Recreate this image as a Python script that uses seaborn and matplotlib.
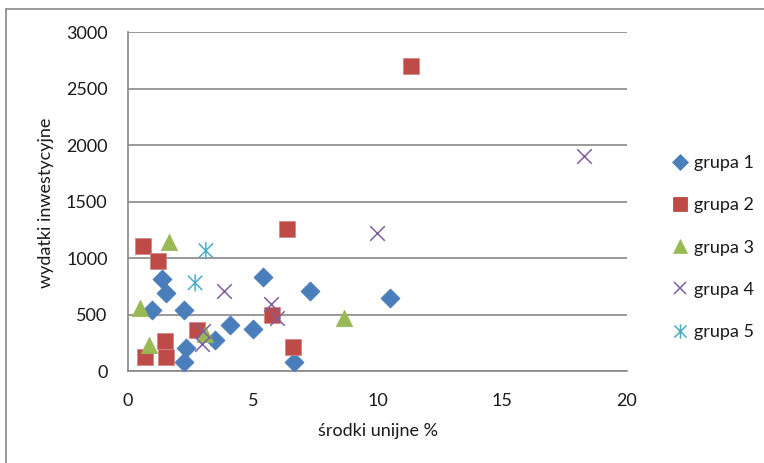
import numpy as np
import pandas as pd
import matplotlib
matplotlib.use("Agg")
import matplotlib.pyplot as plt
from matplotlib.path import Path
from matplotlib.lines import Line2D
import seaborn as sns

# --- data: EU funds share (%) vs investment spending, by group ---
g1_x = [1.36, 1.54, 0.95, 2.25, 2.32, 2.25, 3.5, 4.1, 5.0, 5.43, 7.28, 6.67, 10.5]
g1_y = [810, 690, 540, 540, 200, 80, 270, 410, 370, 830, 710, 80, 650]

g2_x = [0.62, 1.22, 6.38, 2.75, 1.49, 1.54, 0.68, 5.78, 6.6, 11.33]
g2_y = [1110, 975, 1260, 360, 265, 125, 120, 500, 210, 2700]

g3_x = [1.65, 0.47, 0.83, 3.1, 8.65]
g3_y = [1140, 555, 230, 330, 470]

g4_x = [3.86, 5.74, 5.97, 2.99, 2.96, 9.96, 18.27]
g4_y = [706, 594, 465, 353, 236, 1220, 1900]

g5_x = [3.12, 2.69]
g5_y = [1065, 780]

group_names = ["grupa 1", "grupa 2", "grupa 3", "grupa 4", "grupa 5"]
x_ticks = [0, 5, 10, 15, 20]
y_ticks = [0, 500, 1000, 1500, 2000, 2500, 3000]

colors = ["#4a7ebb", "#be4b48", "#98b954", "#7d5fa0", "#4bacc6"]

# asterisk marker: vertical bar plus a cross
asterisk = Path(
    [(0, -0.5), (0, 0.5), (-0.42, -0.42), (0.42, 0.42), (-0.42, 0.42), (0.42, -0.42)],
    [Path.MOVETO, Path.LINETO, Path.MOVETO, Path.LINETO, Path.MOVETO, Path.LINETO],
)

sns.set_theme(style="white")
plt.rcParams["font.family"] = ["Lato", "DejaVu Sans"]
grey = "#878787"
text_col = "#1a1a1a"

fig = plt.figure(figsize=(7.64, 4.63), dpi=100)
ax = fig.add_axes([128 / 764, 1 - 371 / 463, (627 - 128) / 764, (371 - 32) / 463])

frames = [
    (g1_x, g1_y, "D", 95, dict(edgecolor=colors[0], linewidth=0.5)),
    (g2_x, g2_y, "s", 128, dict(edgecolor="#d08a88", linewidth=0.6)),
    (g3_x, g3_y, "^", 140, dict(edgecolor=colors[2], linewidth=0.5)),
    (g4_x, g4_y, "x", 110, dict(linewidth=1.1)),
    (g5_x, g5_y, asterisk, 150, dict(edgecolor=colors[4], facecolor="none", linewidth=1.1)),
]

for (xs, ys, mk, sz, extra), col, name in zip(frames, colors, group_names):
    df = pd.DataFrame({"x": xs, "y": ys})
    sns.scatterplot(data=df, x="x", y="y", marker=mk, s=sz, color=col,
                    ax=ax, legend=False, zorder=3, **extra)

ax.set_xlim(0, 20)
ax.set_ylim(0, 3000)
ax.set_xticks(x_ticks)
ax.set_yticks(y_ticks)
ax.set_xticklabels([str(t) for t in x_ticks])
ax.set_yticklabels([str(t) for t in y_ticks])
ax.yaxis.grid(True, color=grey, linewidth=1.2)
ax.xaxis.grid(False)
ax.set_axisbelow(True)
for side in ["top", "right"]:
    ax.spines[side].set_visible(False)
for side in ["left", "bottom"]:
    ax.spines[side].set_color(grey)
    ax.spines[side].set_linewidth(1.2)
ax.tick_params(axis="both", which="major", direction="out", length=4.7,
               width=1.2, color=grey, labelsize=13, labelcolor=text_col)
ax.tick_params(axis="y", pad=10)
ax.tick_params(axis="x", pad=11)
ax.set_xlabel("środki unijne %", fontsize=13, color=text_col)
ax.set_ylabel("wydatki inwestycyjne", fontsize=13, color=text_col)
ax.xaxis.set_label_coords(0.5, -0.152)
ax.yaxis.set_label_coords(-0.148, 0.496)

handles = []
for (xs, ys, mk, sz, extra), col in zip(frames, colors):
    lw = extra.get("linewidth", 0.5)
    handles.append(Line2D([], [], linestyle="none", marker=mk, color=col,
                          markersize=np.sqrt(sz) * 0.85, markeredgewidth=lw,
                          markeredgecolor=col))
fig.legend(handles, group_names, loc="upper left",
           bbox_to_anchor=(664 / 764, 1 - 148 / 463), frameon=False,
           fontsize=13, labelspacing=1.45, handlelength=1.0,
           handletextpad=0.25, borderaxespad=0, labelcolor=text_col)

# outer frame of the chart area
fig.add_artist(Line2D([6 / 764, 6 / 764], [0, 1 - 9 / 463],
                      transform=fig.transFigure, color=grey, linewidth=1.2))
fig.add_artist(Line2D([6 / 764, 1], [1 - 9 / 463, 1 - 9 / 463],
                      transform=fig.transFigure, color=grey, linewidth=1.2))

fig.savefig("out.png", dpi=100, facecolor="white")
